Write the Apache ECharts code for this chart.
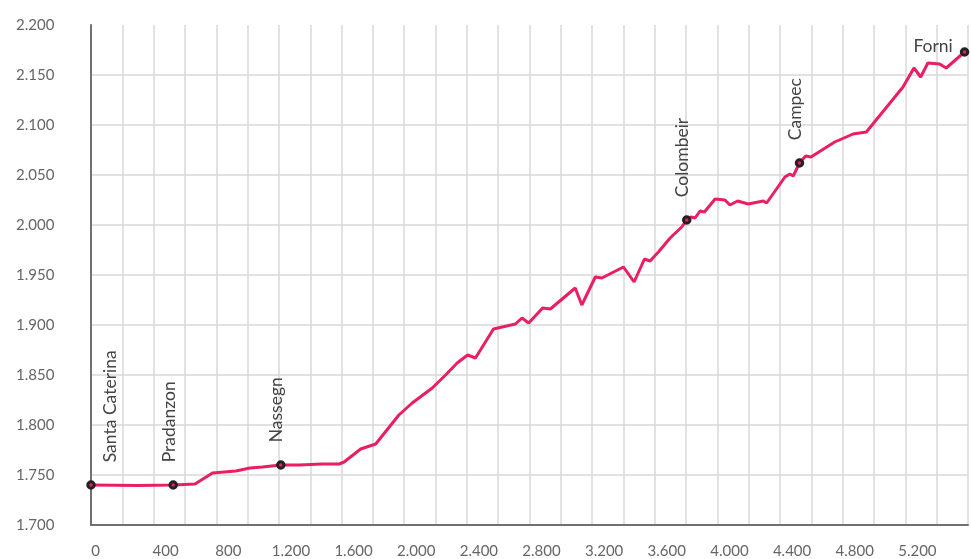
<!DOCTYPE html>
<html><head><meta charset="utf-8">
<script src="https://cdn.jsdelivr.net/npm/echarts@6.0.0/dist/echarts.min.js"></script>
<style>html,body{margin:0;padding:0;background:#fff}#c{width:971px;height:559px}</style>
</head><body><div id="c"></div>
<script>
// Elevation profile: distance (m) and elevation (m)
const distances = [0,300,525,664,776,925,1015,1095,1212,1329,1477,1584,1616,1722,1818,1966,2051,2179,2264,2338,2405,2455,2570,2710,2752,2795,2884,2933,3092,3134,3220,3262,3400,3468,3534,3570,3623,3698,3772,3804,3831,3857,3889,3917,3985,4048,4080,4129,4197,4293,4314,4431,4463,4484,4524,4563,4597,4749,4866,4951,5185,5255,5298,5344,5419,5461,5578];
const elevations = [1740,1739.5,1740,1741,1752,1754,1757,1758,1760,1760,1761,1761,1763,1776,1781,1810,1822,1837,1850,1862,1870,1867,1896,1901,1907,1902,1917,1916,1937,1920,1948,1947,1958,1943,1966,1964,1973,1987,1998,2005,2008,2007,2014,2013,2026,2025,2020,2024,2021,2024,2022,2048,2051,2049,2062,2069,2068,2083,2091,2093,2138,2157,2148,2162,2161,2157,2173];

const placeNames = ['Santa Caterina','Pradanzon','Nassegn','Colombeir','Campec','Forni'];
const placeDistances = [0,525,1212,3804,4524,5578];
const placeElevations = [1740,1740,1760,2005,2062,2173];

const xTickValues = [0,400,800,1200,1600,2000,2400,2800,3200,3600,4000,4400,4800,5200];
const yTickValues = [1700,1750,1800,1850,1900,1950,2000,2050,2100,2150,2200];

function fmt(v){ return String(v).replace(/\B(?=(\d{3})+(?!\d))/g, '.'); }

const lineData = distances.map((d,i)=>[d, elevations[i]]);
const placeData = placeNames.map((n,i)=>{
  const item = {name:n, value:[placeDistances[i], placeElevations[i]]};
  if (n === 'Santa Caterina') item.label = {offset:[0,19]};
  if (n === 'Forni') item.label = {rotate:0, position:'left', align:'right', verticalAlign:'middle', distance:7, offset:[0,-6]};
  return item;
});

const chart = echarts.init(document.getElementById('c'), null, {renderer:'canvas'});
chart.setOption({
  animation:false,
  backgroundColor:'#fff',
  grid:{left:91, right:1, top:25, bottom:34, containLabel:false},
  xAxis:{
    type:'value', min:0, max:5600, interval:200,
    axisLine:{show:true, onZero:false, lineStyle:{color:'#707070', width:2}},
    axisTick:{show:false},
    splitLine:{show:true, showMinLine:false, lineStyle:{color:'#d9d9d9', width:1.5}},
    axisLabel:{
      margin:19, fontFamily:'Lato', fontSize:15, color:'#666',
      formatter:function(v){
        if (xTickValues.indexOf(v) < 0) return '';
        if (v === 0) return '{z|0}';
        return '{a|' + fmt(v) + '}';
      },
      rich:{ z:{padding:[0,0,0,9], fontFamily:'Lato', fontSize:15, color:'#666'}, a:{padding:[0,0,0,24], fontFamily:'Lato', fontSize:15, color:'#666'} }
    }
  },
  yAxis:{
    type:'value', min:1700, max:2200, interval:50,
    axisLine:{show:true, lineStyle:{color:'#707070', width:2}},
    axisTick:{show:false},
    splitLine:{show:true, showMinLine:false, showMaxLine:false, lineStyle:{color:'#d9d9d9', width:1.5}},
    axisLabel:{
      margin:75, align:'left', fontFamily:'Lato', fontSize:15, color:'#666', padding:[0,0,4,0],
      formatter:function(v){ return yTickValues.indexOf(v) >= 0 ? fmt(v) : ''; }
    }
  },
  series:[
    {
      type:'line', data:lineData, showSymbol:false, symbol:'none',
      lineStyle:{color:'#e91e63', width:3}, z:2
    },
    {
      type:'scatter', data:placeData, symbol:'circle', symbolSize:6.5, clip:false, z:3,
      itemStyle:{color:'#e91e63', borderColor:'#222', borderWidth:3, opacity:1},
      label:{
        show:true, formatter:'{b}', position:'top', distance:18, rotate:90,
        align:'left', verticalAlign:'middle', offset:[0,-4],
        fontFamily:'Lato', fontSize:17.5, color:'#444'
      }
    }
  ]
});
</script>
</body></html>
